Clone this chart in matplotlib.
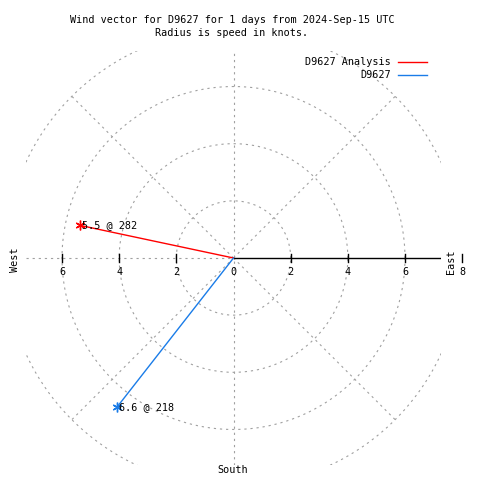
import numpy as np
import matplotlib
matplotlib.use("Agg")
import matplotlib.pyplot as plt
from matplotlib.lines import Line2D

# wind vectors: direction (deg, from north clockwise), speed in knots
names = ["D9627 Analysis", "D9627"]
directions = [282, 218]
speeds = [5.5, 6.6]
colors = ["#ff0000", "#1a7ce8"]

rings = [2, 4, 6, 8]
spokes = [45, 135, 225, 315]
tick_vals = [-6, -4, -2, 2, 4, 6, 8]
tick_labels = ["6", "4", "2", "2", "4", "6", "8"]
rmax = 7.25

plt.rcParams['font.family'] = ['DejaVu Sans Mono']
FS = 7.3
grid = dict(color="#a0a0a0", lw=0.8, ls=(0, (2.0, 3.5)))

fig = plt.figure(figsize=(4.8, 4.8), dpi=100)
cx, cy, scale = 233.5, 258.0, 28.58  # pixel center, px per knot
half = rmax * scale
ax = fig.add_axes([(cx - half) / 480, (480 - cy - half) / 480, 2 * half / 480, 2 * half / 480])
ax.set_xlim(-rmax, rmax)
ax.set_ylim(-rmax, rmax)
ax.set_aspect("equal")
ax.axis("off")

def fig_xy(px, py):
    return px / 480, 1 - py / 480

# grid circles and spokes
t = np.linspace(0, 2 * np.pi, 721)
for r in rings:
    ax.plot(r * np.cos(t), r * np.sin(t), **grid)
for a in spokes:
    th = np.radians(a)
    ax.plot([0, 8 * np.sin(th)], [0, 8 * np.cos(th)], **grid)
ax.plot([0, 0], [-rmax, rmax], **grid)
ax.plot([-rmax, 0], [0, 0], **grid)
ax.plot([0, rmax], [0, 0], color="black", lw=1.0)

# ticks on the radius axis
tl = 4 / scale
for v, lab in zip(tick_vals, tick_labels):
    ax.plot([v, v], [-tl, tl], color="black", lw=1.0, clip_on=False)
    ax.text(v, -14 / scale, lab, ha="center", va="center", fontsize=FS, clip_on=False)
ax.text(0, -14 / scale, "0", ha="center", va="center", fontsize=FS)

# wind vectors
for name, d, s, c in zip(names, directions, speeds, colors):
    th = np.radians(d)
    x, y = s * np.sin(th), s * np.cos(th)
    ax.plot([0, x], [0, y], color=c, lw=1.0)
    ax.plot([x], [y], marker=(6, 2, 0), color=c, ms=7, mew=1.0)
    ax.text(x + 2 / scale, y, f"{s} @ {d}", ha="left", va="center", fontsize=FS)

# titles and compass labels
fig.text(*fig_xy(232, 20), "Wind vector for D9627 for 1 days from 2024-Sep-15 UTC",
         ha="center", va="center", fontsize=FS)
fig.text(*fig_xy(232, 33), "Radius is speed in knots.", ha="center", va="center", fontsize=FS)
fig.text(*fig_xy(15, 260), "West", rotation=90, ha="center", va="center", fontsize=FS)
fig.text(*fig_xy(451, 262), "East", rotation=90, ha="center", va="center", fontsize=FS)
fig.text(*fig_xy(233, 470), "South", ha="center", va="center", fontsize=FS)

# legend
for i, (name, c) in enumerate(zip(names, colors)):
    ly = 62 + 13 * i
    fig.text(*fig_xy(391, ly), name, ha="right", va="center", fontsize=FS)
    x0, y0 = fig_xy(398, ly)
    x1, _ = fig_xy(427, ly)
    fig.add_artist(Line2D([x0, x1], [y0, y0], color=c, lw=1.0, transform=fig.transFigure))

fig.savefig("out.png", dpi=100)
